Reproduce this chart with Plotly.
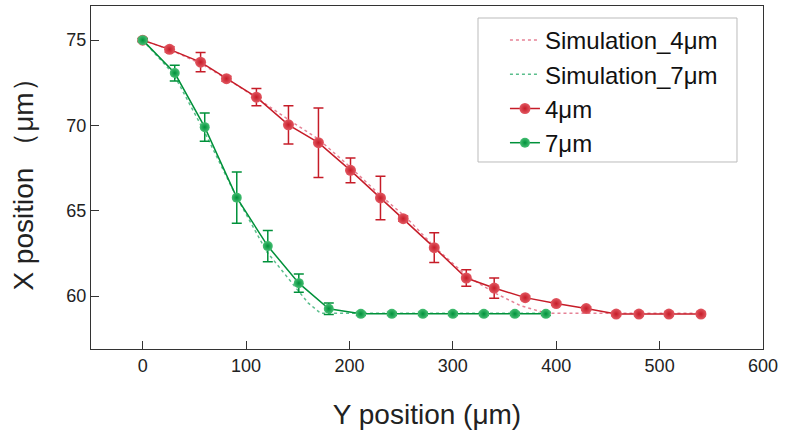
import plotly.graph_objects as go

# Measured 4 µm
x4 = [0, 26, 56, 81, 110, 141, 170, 201, 230, 252, 282, 313, 340, 370, 400, 429, 458, 480, 509, 540]
y4 = [75, 74.46, 73.71, 72.74, 71.66, 70.04, 68.99, 67.37, 65.75, 64.54, 62.84, 61.06, 60.47, 59.91, 59.56, 59.27, 58.95, 58.95, 58.95, 58.95]
e4 = [0.1, 0.15, 0.57, 0.15, 0.51, 1.12, 2.04, 0.73, 1.27, 0.15, 0.87, 0.49, 0.59, 0.1, 0.1, 0.1, 0.1, 0.1, 0.1, 0.1]

# Measured 7 µm
x7 = [0, 31, 60, 91, 121, 151, 180, 211, 241, 271, 300, 330, 360, 390]
y7 = [75, 73.07, 69.90, 65.77, 62.93, 60.76, 59.26, 58.96, 58.96, 58.96, 58.96, 58.96, 58.96, 58.96]
e7 = [0.1, 0.46, 0.83, 1.5, 0.92, 0.54, 0.34, 0.1, 0.1, 0.1, 0.1, 0.1, 0.1, 0.1]

# Simulations
xs4 = [0, 28, 57, 85, 113, 142, 170, 200, 230, 255, 282, 313, 340, 365, 390, 420, 450, 480, 510, 540]
ys4 = [75, 74.4, 73.6, 72.6, 71.5, 70.3, 69.2, 67.6, 65.9, 64.6, 62.9, 61.2, 60.2, 59.45, 59.0, 59, 59, 59, 59, 59]
xs7 = [0, 30, 60, 90, 120, 140, 160, 172, 200, 240, 280, 320, 360, 390]
ys7 = [75, 73.0, 69.6, 65.9, 62.6, 61.1, 59.6, 59.0, 59, 59, 59, 59, 59, 59]

RED = "rgb(198,28,40)"
RED_HI = "rgb(226,88,98)"
GREEN = "rgb(0,145,58)"
GREEN_HI = "rgb(70,190,115)"
FONT = "Arial, Liberation Sans, sans-serif"

fig = go.Figure()
fig.add_trace(go.Scatter(x=xs4, y=ys4, mode="lines", name="Simulation_4μm",
                         line=dict(color="rgb(230,130,150)", width=1.5, dash="dot")))
fig.add_trace(go.Scatter(x=xs7, y=ys7, mode="lines", name="Simulation_7μm",
                         line=dict(color="rgb(90,190,140)", width=1.5, dash="dot")))
fig.add_trace(go.Scatter(x=x4, y=y4, mode="lines+markers", name="4μm",
                         line=dict(color=RED, width=1.5),
                         marker=dict(color=RED_HI, size=11, line=dict(width=0),
                                     gradient=dict(type="radial", color=RED)),
                         error_y=dict(type="data", array=e4, color=RED, thickness=1.5, width=5)))
fig.add_trace(go.Scatter(x=x7, y=y7, mode="lines+markers", name="7μm",
                         line=dict(color=GREEN, width=1.5),
                         marker=dict(color=GREEN_HI, size=10, line=dict(width=0),
                                     gradient=dict(type="radial", color=GREEN)),
                         error_y=dict(type="data", array=e7, color=GREEN, thickness=1.5, width=5)))

axis_common = dict(showgrid=False, zeroline=False, ticks="inside", ticklen=8, tickwidth=1.3,
                   tickcolor="#333", showline=True, linecolor="#333", linewidth=1.3, mirror=True,
                   tickfont=dict(family=FONT, size=18, color="#222"))

fig.update_layout(
    width=786, height=435,
    margin=dict(l=91, r=23, t=6, b=86),
    plot_bgcolor="white", paper_bgcolor="white",
    font=dict(family=FONT, color="#222"),
    xaxis=dict(range=[-50, 600], tickvals=[0, 100, 200, 300, 400, 500, 600],
               title=dict(text="Y position (μm)", font=dict(family=FONT, size=28), standoff=29),
               **axis_common),
    yaxis=dict(range=[56.9, 77], tickvals=[60, 65, 70, 75],
               title=dict(text="X position （μm）", font=dict(family=FONT, size=28), standoff=24),
               **axis_common),
    legend=dict(x=0.616, y=0.965, xanchor="left", yanchor="top",
                borderwidth=0, bgcolor="rgba(255,255,255,0)",
                font=dict(family=FONT, size=24, color="#111")),
    shapes=[dict(type="rect", xref="paper", yref="paper",
                 x0=0.5759, x1=0.9613, y0=0.5452, y1=0.965,
                 line=dict(color="#bbb", width=1), fillcolor="rgba(0,0,0,0)", layer="above")],
    showlegend=True,
)

fig.write_html("out.html")
